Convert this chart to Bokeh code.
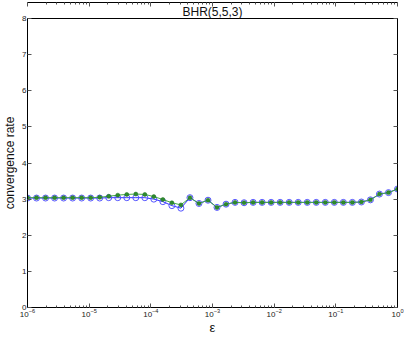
import numpy as np
from bokeh.plotting import figure
from bokeh.models import (LogAxis, LinearAxis, FixedTicker, LogTicker, Range1d,
                          Title)
from bokeh.embed import file_html
from bokeh.resources import INLINE

# data
n_points = 42
eps = [10 ** (-6 + 6 * k / (n_points - 1)) for k in range(n_points)]
rate_green = [3.04, 3.04, 3.04, 3.04, 3.04, 3.04, 3.04, 3.04, 3.05, 3.08,
              3.11, 3.13, 3.14, 3.13, 3.07, 2.99, 2.90, 2.84, 3.04, 2.88,
              2.97, 2.77, 2.86, 2.91, 2.90, 2.91, 2.91, 2.91, 2.91, 2.91,
              2.91, 2.91, 2.91, 2.91, 2.91, 2.91, 2.91, 2.92, 2.98, 3.14,
              3.18, 3.28]
rate_blue = [3.03, 3.03, 3.03, 3.03, 3.03, 3.03, 3.03, 3.03, 3.03, 3.04,
             3.04, 3.04, 3.04, 3.04, 3.00, 2.93, 2.82, 2.75, 3.04, 2.88,
             2.97, 2.77, 2.86, 2.91, 2.90, 2.91, 2.91, 2.91, 2.91, 2.91,
             2.91, 2.91, 2.91, 2.91, 2.91, 2.91, 2.91, 2.92, 2.98, 3.14,
             3.18, 3.28]
y_ticks = [0, 1, 2, 3, 4, 5, 6, 7, 8]
title_text = "BHR(5,5,3)"
x_label = "\u03b5"
y_label = "convergence rate"

FONT = "Liberation Sans"

p = figure(width=407, height=337, output_backend="svg", toolbar_location=None,
           x_axis_type="log", x_range=Range1d(1e-6, 1), y_range=Range1d(0, 8),
           min_border_left=26, min_border_right=10, min_border_top=18,
           min_border_bottom=27, title=None,
           styles={"position": "absolute", "left": "0px", "top": "0px"})
p.outline_line_color = "black"
p.outline_line_width = 1
p.grid.visible = False
p.background_fill_color = "white"
p.border_fill_color = "white"

t = Title(text=title_text, align="center", text_font=FONT, text_font_size="12px",
          text_font_style="normal", text_color="#111111", standoff=0, offset=0)
p.add_layout(t, "above")

def style_axis(ax, labels=True):
    ax.major_tick_in = 4
    ax.major_tick_out = 0
    ax.minor_tick_in = 2
    ax.minor_tick_out = 0
    ax.axis_line_color = "black"
    ax.major_tick_line_color = "#555555"
    ax.minor_tick_line_color = "#555555"
    ax.major_label_text_font = FONT
    ax.major_label_text_font_size = "8px"
    ax.major_label_text_color = "#222222"
    ax.major_label_standoff = 1
    ax.axis_label_text_font = FONT
    ax.axis_label_text_font_style = "normal"
    ax.axis_label_text_color = "#111111"
    ax.axis_label_standoff = 0
    if not labels:
        ax.major_label_text_font_size = "0px"
        ax.major_label_text_color = None

xa = p.xaxis[0]
xa.ticker = LogTicker(desired_num_ticks=7, num_minor_ticks=10)
style_axis(xa)
xa.axis_label = x_label
xa.axis_label_text_font_size = "13px"

ya = p.yaxis[0]
ya.ticker = FixedTicker(ticks=y_ticks, minor_ticks=[])
style_axis(ya)
ya.axis_label = y_label
ya.axis_label_text_font_size = "12px"
ya.axis_label_standoff = 2

top = LogAxis(ticker=LogTicker(desired_num_ticks=7, num_minor_ticks=10))
style_axis(top, labels=False)
p.add_layout(top, "above")
right = LinearAxis(ticker=FixedTicker(ticks=y_ticks, minor_ticks=[]))
style_axis(right, labels=False)
p.add_layout(right, "right")

p.line(eps, rate_blue, line_color="#3333ff", line_width=1)
p.scatter(eps, rate_blue, marker="circle", size=6, fill_color=None,
          line_color="#5555ff", line_width=1)
p.line(eps, rate_green, line_color="#44aa44", line_width=1)
p.scatter(eps, rate_green, marker="circle", size=4, fill_color="#2e8b2e",
          line_color="#1f6f1f", line_width=0.5)

open("out.html", "w").write(file_html(p, INLINE))
